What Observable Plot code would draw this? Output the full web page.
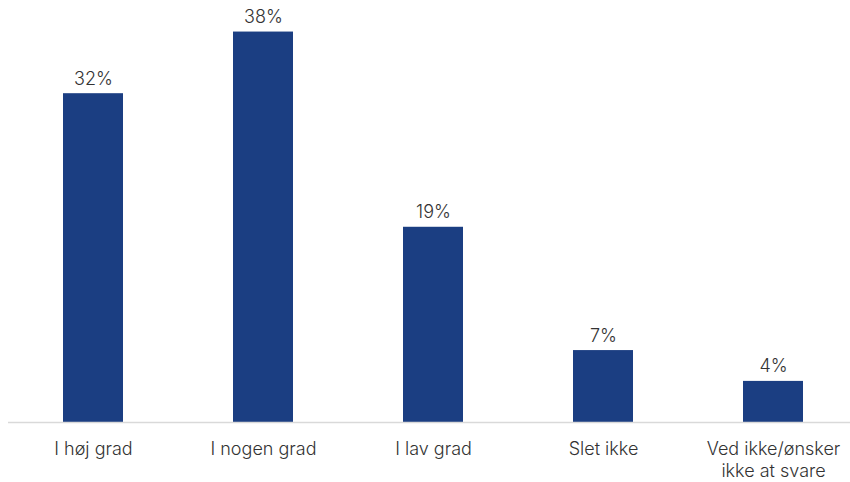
<!DOCTYPE html>
<html>
<head>
<meta charset="utf-8">
<script src="https://cdn.jsdelivr.net/npm/d3@7"></script>
<script src="https://cdn.jsdelivr.net/npm/@observablehq/plot@0.6"></script>
<style>
  html, body { margin: 0; padding: 0; background: #fff; overflow: hidden; }
  #chart svg { display: block; }
</style>
</head>
<body>
<div id="chart"></div>
<script>
const categories = ["I høj grad", "I nogen grad", "I lav grad", "Slet ikke", "Ved ikke/ønsker\nikke at svare"];
const values = [32, 38, 19, 7, 4];
const valueLabels = ["32%", "38%", "19%", "7%", "4%"];

const data = categories.map((c, i) => ({category: c, value: values[i], label: valueLabels[i]}));

const chart = Plot.plot({
  width: 850,
  height: 482,
  marginLeft: 8,
  marginRight: -8,
  marginTop: 11,
  marginBottom: 60,
  style: {fontFamily: "Inter, 'Open Sans', sans-serif", fontSize: "18px", color: "#333"},
  x: {domain: categories, paddingInner: 0.647, paddingOuter: 0.3235, label: null, axis: null},
  y: {domain: [0, 40], axis: null},
  marks: [
    Plot.barY(data, {x: "category", y: "value", fill: "#1B3E82"}),
    Plot.ruleY([0], {stroke: "#d9d9d9", strokeWidth: 1.5}),
    Plot.axisX({tickSize: 0, tickPadding: 17, lineHeight: 1.22, fontSize: 18, fontWeight: 300, fill: "#333", label: null}),
    Plot.text(data, {x: "category", y: "value", text: "label", lineAnchor: "bottom", dy: -9, fill: "#333", fontSize: 18, fontWeight: 300})
  ]
});
document.getElementById("chart").appendChild(chart);
</script>
</body>
</html>
